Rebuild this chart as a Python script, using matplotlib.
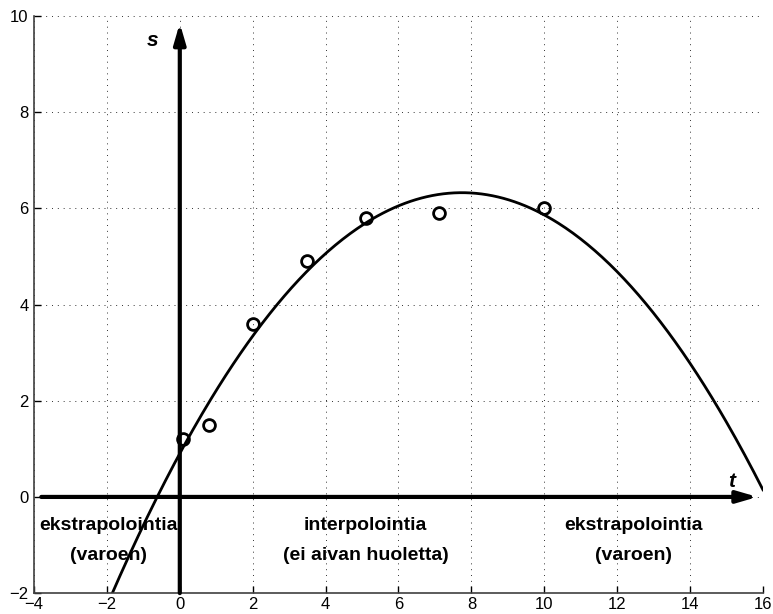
import numpy as np
import matplotlib.pyplot as plt

plt.rcParams['font.family'] = ['Liberation Sans', 'DejaVu Sans']

# measured points
t_data = [0.1, 0.8, 2.0, 3.5, 5.1, 7.1, 10.0]
s_data = [1.2, 1.5, 3.6, 4.9, 5.8, 5.9, 6.0]

xticks = list(range(-4, 17, 2))
yticks = list(range(-2, 11, 2))

# quadratic least squares fit to the points
coef = np.polyfit(t_data, s_data, 2)
tt = np.linspace(-4, 16, 400)
ss = np.polyval(coef, tt)

fig = plt.figure(figsize=(7.73, 6.14), dpi=100)
ax = fig.add_axes([0.044, 0.034, 0.943, 0.94])

ax.set_xlim(-4, 16)
ax.set_ylim(-2, 10)
ax.set_xticks(xticks)
ax.set_yticks(yticks)
ax.grid(True, color='0.2', linestyle=(0, (1, 5)), linewidth=0.7)
ax.tick_params(direction='in', length=5, labelsize=12, width=1)
ax.tick_params(axis='x', pad=3)
ax.tick_params(axis='y', pad=4)
for sp in ['top', 'right']:
    ax.spines[sp].set_visible(False)
for sp in ['left', 'bottom']:
    ax.spines[sp].set_color('0.25')
    ax.spines[sp].set_linewidth(1.2)

# coordinate axes with arrows
astyle = '-|>,head_length=1.2,head_width=0.35'
ax.annotate('', xy=(15.85, 0), xytext=(-3.8, 0),
            arrowprops=dict(arrowstyle=astyle, color='black', lw=3,
                            shrinkA=0, shrinkB=0))
ax.annotate('', xy=(0, 9.85), xytext=(0, -2),
            arrowprops=dict(arrowstyle=astyle, color='black', lw=3,
                            shrinkA=0, shrinkB=0))

ax.plot(tt, ss, color='black', lw=2)
ax.plot(t_data, s_data, 'o', color='black', mfc='none', ms=8.5, mew=2)

ax.text(-0.75, 9.5, 's', fontsize=15, fontweight='bold', style='italic',
        ha='center', va='center')
ax.text(15.15, 0.32, 't', fontsize=15, fontweight='bold', style='italic',
        ha='center', va='center')

kw = dict(fontsize=14, fontweight='bold', ha='center', va='center')
ax.text(-1.95, -0.6, 'ekstrapolointia', **kw)
ax.text(-1.95, -1.22, '(varoen)', **kw)
ax.text(5.1, -0.6, 'interpolointia', **kw)
ax.text(5.1, -1.22, '(ei aivan huoletta)', **kw)
ax.text(12.45, -0.6, 'ekstrapolointia', **kw)
ax.text(12.45, -1.22, '(varoen)', **kw)

fig.savefig('out.png', dpi=100)
